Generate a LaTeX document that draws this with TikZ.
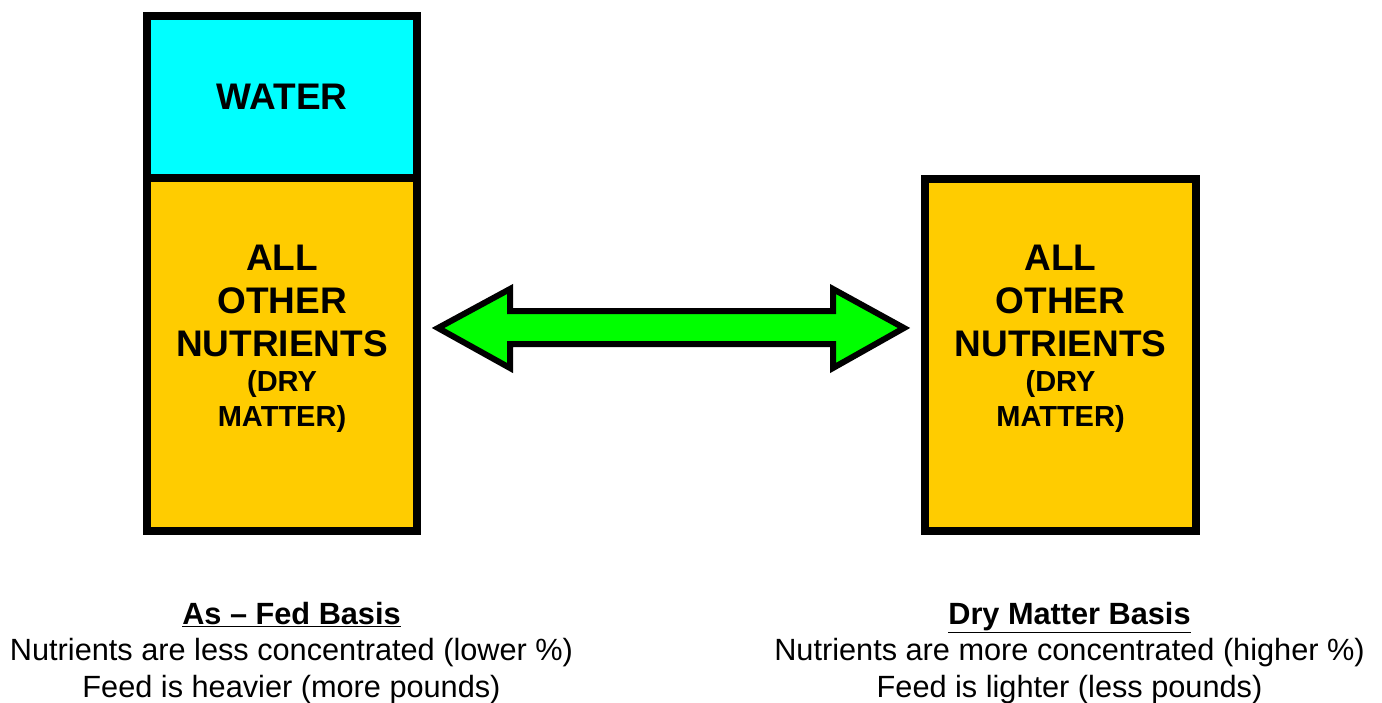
\documentclass[tikz,border=0pt]{standalone}
\usepackage{fontspec}
\setmainfont{Liberation Sans}
\definecolor{watercol}{HTML}{00FFFF}
\definecolor{drycol}{HTML}{FFCC00}
\definecolor{arrowcol}{HTML}{00FF00}
\tikzset{
  basebox/.style={draw=black, line width=8pt, rectangle, inner sep=0pt, outer sep=0pt},
  waterbox/.style={basebox, fill=watercol, minimum width=270pt, minimum height=162pt},
  drybox/.style={basebox, fill=drycol, minimum width=270pt, minimum height=353pt},
  bigtxt/.style={font=\bfseries\fontsize{37}{43}\selectfont, align=center, inner sep=0pt},
  smalltxt/.style={font=\bfseries\fontsize{29}{35}\selectfont, align=center, inner sep=0pt},
  basistxt/.style={font=\fontsize{30.7}{36.5}\selectfont, align=center, inner sep=0pt}
}
\begin{document}
\begin{tikzpicture}[x=1pt,y=-1pt]
  \useasboundingbox (0,0) rectangle (1382,702);

  \node[drybox] (asfed) at (282,354.5) {};
  \node[waterbox] (water) at (282,97) {};
  \node[bigtxt] (watertxt) at (water.center) {WATER};
  \node[bigtxt] (asfedtxt) at (282,301) {ALL\\OTHER\\NUTRIENTS};
  \node[smalltxt] (asfedsub) at (282,401) {(DRY\\MATTER)};

  \node[drybox, minimum width=271pt, minimum height=352pt] (dm) at (1060.5,355) {};
  \node[bigtxt] (dmtxt) at (1060.5,301) {ALL\\OTHER\\NUTRIENTS};
  \node[smalltxt] (dmsub) at (1060.5,401) {(DRY\\MATTER)};

  \draw[line width=6pt, line join=miter, fill=arrowcol]
    (438,328) -- (510,289) -- (510,311) -- (833,311) -- (833,289) -- (904,328)
    -- (833,368) -- (833,344) -- (510,344) -- (510,368) -- cycle;

  \node[basistxt] (asfedlbl) at (291.5,653)
    {\textbf{\underline{As -- Fed Basis}}\\Nutrients are less concentrated (lower \%)\\Feed is heavier (more pounds)};
  \node[basistxt] (dmlbl) at (1069.5,653)
    {\textbf{\underline{Dry Matter Basis}}\\Nutrients are more concentrated (higher \%)\\Feed is lighter (less pounds)};
\end{tikzpicture}
\end{document}
